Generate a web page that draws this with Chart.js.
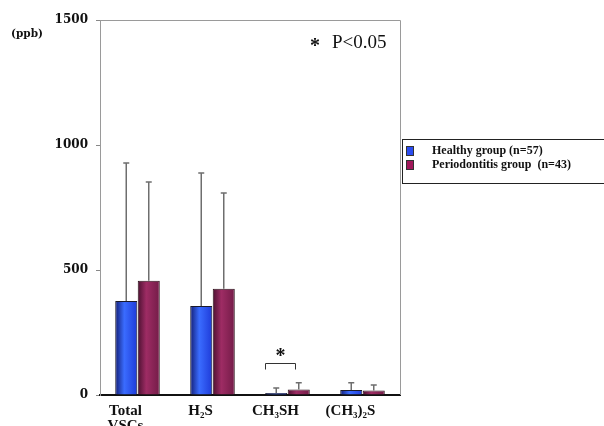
<!DOCTYPE html>
<html>
<head>
<meta charset="utf-8">
<script src="https://cdn.jsdelivr.net/npm/chart.js@4/dist/chart.umd.min.js"></script>
<style>
  html, body { margin: 0; padding: 0; background: #fff; }
  #wrap { width: 604px; height: 426px; position: relative; }
</style>
</head>
<body>
<div id="wrap"><canvas id="vscChart" width="604" height="426"></canvas></div>
<script>
// data
const categories = [['Total', 'VSCs'], 'H\u2082S', 'CH\u2083SH', '(CH\u2083)\u2082S'];
const healthyMean = [376, 356, 8, 20];
const healthySD = [552, 532, 20, 29];
const perioMean = [457, 425, 22, 18];
const perioSD = [395, 383, 27, 22];
const yTicks = [0, 500, 1000, 1500];
const seriesLabels = ['Healthy group (n=57)', 'Periodontitis group\u00a0 (n=43)'];
const sigIndex = 2; // CH3SH

const SERIF = '"Liberation Serif", "DejaVu Serif", serif';
const WIDE = '"DejaVu Serif", "Liberation Serif", serif';
const HALF = 11;

// horizontal shading so the bars look like the old 3D style
function barFill(c, stops) {
  const chart = c.chart;
  const xs = chart.scales && chart.scales.x;
  if (!xs || !chart.chartArea) return stops[1];
  const cx = xs.getPixelForValue(c.dataIndex) + (c.datasetIndex === 0 ? -HALF : HALF);
  const g = chart.ctx.createLinearGradient(cx - HALF, 0, cx + HALF, 0);
  g.addColorStop(0, stops[0]);
  g.addColorStop(0.4, stops[1]);
  g.addColorStop(1, stops[2]);
  return g;
}

const blueStops = ['#14207a', '#3a6cff', '#1e3ad8'];
const purpleStops = ['#4a1030', '#9e2c64', '#741c48'];

// one-sided error bars, frame, bracket and legend
const extrasPlugin = {
  id: 'extras',
  afterDatasetsDraw(chart) {
    const ctx = chart.ctx;
    const y = chart.scales.y;
    const area = chart.chartArea;
    const sds = [healthySD, perioSD];
    const means = [healthyMean, perioMean];

    ctx.save();
    ctx.strokeStyle = '#6e6e6e';
    ctx.lineWidth = 1.5;
    chart.data.datasets.forEach((ds, di) => {
      const meta = chart.getDatasetMeta(di);
      meta.data.forEach((bar, i) => {
        const top = y.getPixelForValue(means[di][i]);
        const end = y.getPixelForValue(means[di][i] + sds[di][i]);
        ctx.beginPath();
        ctx.moveTo(bar.x, top);
        ctx.lineTo(bar.x, end);
        ctx.moveTo(bar.x - 3, end);
        ctx.lineTo(bar.x + 3, end);
        ctx.stroke();
      });
    });

    // top and right frame
    ctx.strokeStyle = '#9a9a9a';
    ctx.lineWidth = 1;
    ctx.beginPath();
    ctx.moveTo(area.left, area.top + 0.5);
    ctx.lineTo(area.right + 0.5, area.top + 0.5);
    ctx.lineTo(area.right + 0.5, area.bottom);
    ctx.stroke();

    // significance bracket over CH3SH
    const b0 = chart.getDatasetMeta(0).data[sigIndex];
    const b1 = chart.getDatasetMeta(1).data[sigIndex];
    const by = Math.round(y.getPixelForValue(128)) + 0.5;
    const bx0 = Math.round(b0.x - 11) + 0.5;
    const bx1 = Math.round(b1.x - 4) + 0.5;
    ctx.strokeStyle = '#333';
    ctx.beginPath();
    ctx.moveTo(bx0, by + 6);
    ctx.lineTo(bx0, by);
    ctx.lineTo(bx1, by);
    ctx.lineTo(bx1, by + 6);
    ctx.stroke();
    ctx.fillStyle = '#111';
    ctx.font = 'bold 20px ' + SERIF;
    ctx.textAlign = 'center';
    ctx.textBaseline = 'middle';
    ctx.fillText('*', (bx0 + bx1) / 2, by - 7);

    // p value note
    ctx.textAlign = 'left';
    ctx.font = 'bold 20px ' + SERIF;
    ctx.fillText('*', 310, 47);
    ctx.font = '19px ' + SERIF;
    ctx.fillText('P<0.05', 332, 43);

    // unit label
    ctx.font = 'bold 10.5px ' + WIDE;
    ctx.fillText('(ppb)', 11, 34);

    // legend box
    ctx.strokeStyle = '#222';
    ctx.lineWidth = 1;
    ctx.strokeRect(402.5, 139.5, 210, 44);
    const swatch = ['#2b4cf0', '#a0175a'];
    seriesLabels.forEach((lab, i) => {
      const ly = 151 + i * 14;
      ctx.fillStyle = swatch[i];
      ctx.fillRect(406, ly - 5, 8, 10);
      ctx.strokeStyle = '#333';
      ctx.strokeRect(406.5, ly - 4.5, 7, 9);
      ctx.fillStyle = '#111';
      ctx.font = 'bold 12px ' + SERIF;
      ctx.textBaseline = 'middle';
      ctx.fillText(lab, 432, ly);
    });
    ctx.restore();
  }
};

const ctx = document.getElementById('vscChart');
new Chart(ctx, {
  type: 'bar',
  data: {
    labels: categories,
    datasets: [
      {
        label: seriesLabels[0],
        data: healthyMean,
        backgroundColor: c => barFill(c, blueStops),
        borderColor: '#1a1a2a',
        borderWidth: 1
      },
      {
        label: seriesLabels[1],
        data: perioMean,
        backgroundColor: c => barFill(c, purpleStops),
        borderColor: '#2a1018',
        borderWidth: 1
      }
    ]
  },
  options: {
    responsive: false,
    animation: false,
    devicePixelRatio: 1,
    layout: { padding: { left: 0, right: 204, top: 20, bottom: 0 } },
    categoryPercentage: 0.6,
    barPercentage: 0.98,
    plugins: {
      legend: { display: false },
      tooltip: { enabled: false }
    },
    scales: {
      x: {
        afterFit: s => { s.height = 31; },
        grid: { display: false },
        border: { color: '#111', width: 2 },
        ticks: {
          color: '#111',
          maxRotation: 0,
          padding: 1,
          labelOffset: -12,
          font: { family: SERIF, size: 15, weight: 'bold', lineHeight: 1.0 }
        }
      },
      y: {
        min: 0,
        max: 1500,
        afterFit: s => { s.width = 100; },
        afterBuildTicks: s => { s.ticks = yTicks.map(v => ({ value: v })); },
        grid: { drawOnChartArea: false, tickLength: 4, color: '#888' },
        border: { color: '#9a9a9a', width: 1 },
        ticks: {
          color: '#111',
          padding: 8,
          callback: v => String(v),
          font: { family: WIDE, size: 12, weight: 'bold' }
        }
      }
    }
  },
  plugins: [extrasPlugin]
});
</script>
</body>
</html>
